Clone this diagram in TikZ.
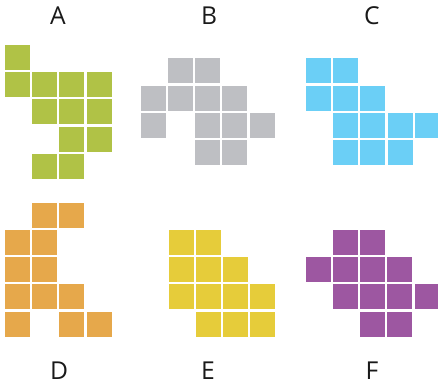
\documentclass[tikz,border=0pt]{standalone}
\usepackage{fontspec}
\setmainfont{Open Sans}
\definecolor{tileA}{RGB}{176,194,70}
\definecolor{tileB}{RGB}{190,191,195}
\definecolor{tileC}{RGB}{107,207,246}
\definecolor{tileD}{RGB}{230,168,75}
\definecolor{tileE}{RGB}{230,204,58}
\definecolor{tileF}{RGB}{157,87,161}
\begin{document}
\begin{tikzpicture}[x=0.75pt, y=-0.75pt,
    cell/.style={minimum size=18.75pt, inner sep=0pt, draw=none},
    tag/.style={font=\fontsize{18.5}{22}\selectfont, text=black!90, inner sep=0pt}
]
    \useasboundingbox (0,0) rectangle (438,386);
    % panel labels
    \node[tag] (labA) at (58,16) {A};
    \node[tag] (labB) at (209,16) {B};
    \node[tag] (labC) at (372,16) {C};
    \node[tag] (labD) at (59,371) {D};
    \node[tag] (labE) at (208,371) {E};
    \node[tag] (labF) at (372,371) {F};
    % tiles, column/row
    \foreach \c/\r in {0/0, 0/1,1/1,2/1,3/1, 1/2,2/2,3/2, 2/3,3/3, 1/4,2/4}{
        \node[cell, fill=tileA] (A-\c-\r) at ({5+12.5+27.2*\c},{45+12.5+27.2*\r}) {};
    }
    \foreach \c/\r in {1/0,2/0, 0/1,1/1,2/1,3/1, 0/2,2/2,3/2,4/2, 2/3,3/3}{
        \node[cell, fill=tileB] (B-\c-\r) at ({140.7+12.5+27.2*\c},{58.3+12.5+27.2*\r}) {};
    }
    \foreach \c/\r in {0/0,1/0, 0/1,1/1,2/1, 1/2,2/2,3/2,4/2, 1/3,2/3,3/3}{
        \node[cell, fill=tileC] (C-\c-\r) at ({306+12.5+27.2*\c},{58.3+12.5+27.2*\r}) {};
    }
    \foreach \c/\r in {1/0,2/0, 0/1,1/1, 0/2,1/2, 0/3,1/3,2/3, 0/4,2/4,3/4}{
        \node[cell, fill=tileD] (D-\c-\r) at ({5+12.5+27.2*\c},{202.7+12.5+27.2*\r}) {};
    }
    \foreach \c/\r in {0/0,1/0, 0/1,1/1,2/1, 0/2,1/2,2/2,3/2, 1/3,2/3,3/3}{
        \node[cell, fill=tileE] (E-\c-\r) at ({168.7+12.5+27.2*\c},{230+12.5+27.2*\r}) {};
    }
    \foreach \c/\r in {1/0,2/0, 0/1,1/1,2/1,3/1, 1/2,2/2,3/2,4/2, 2/3,3/3}{
        \node[cell, fill=tileF] (F-\c-\r) at ({305.7+12.5+27.2*\c},{230+12.5+27.2*\r}) {};
    }
\end{tikzpicture}
\end{document}
